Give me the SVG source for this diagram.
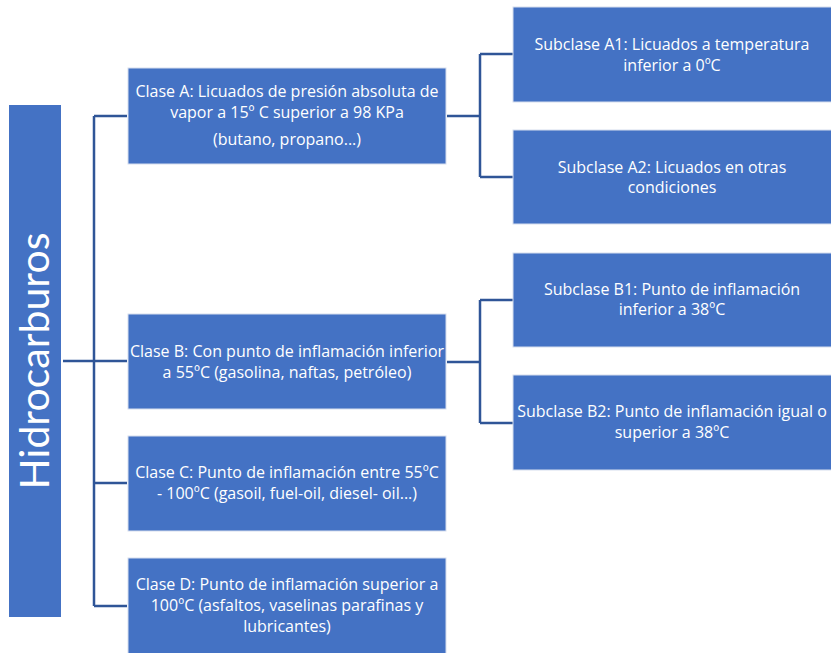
<svg xmlns="http://www.w3.org/2000/svg" width="831" height="653" viewBox="0 0 831 653">
<style>
.box{fill:#4472C4;stroke:#D6DEEE;stroke-width:1}
.t{fill:#FFFFFF;font-family:"Open Sans","Liberation Sans",sans-serif;font-size:16px;text-anchor:middle}
.big{fill:#FFFFFF;font-family:Lato,"Open Sans","Liberation Sans",sans-serif;font-size:41px;text-anchor:middle}
.c{fill:none;stroke:#2F5597;stroke-width:2.5}
</style>
<rect width="831" height="653" fill="#FFFFFF"/>
<g id="connectors">
<path class="c" d="M63,361 H127 M94,116 V606 M94,116 H127 M94,483 H127 M94,606 H127"/>
<path class="c" d="M447,116 H480 M480,54 V177 M480,54 H513 M480,177 H513"/>
<path class="c" d="M447,362 H480 M480,300 V423 M480,300 H513 M480,423 H513"/>
</g>
<g id="root">
<rect class="box" x="9" y="105" width="52" height="512" style="stroke:none"/>
<text class="big" transform="translate(49,361) rotate(-90)">Hidrocarburos</text>
</g>
<g id="claseA">
<rect class="box" x="128" y="68" width="318" height="96"/>
<text class="t" x="287" y="97">Clase A: Licuados de presión absoluta de</text>
<text class="t" x="287" y="118">vapor a 15º C superior a 98 KPa</text>
<text class="t" x="287" y="145">(butano, propano...)</text>
</g>
<g id="claseB">
<rect class="box" x="128" y="314" width="318" height="95"/>
<text class="t" x="287" y="357">Clase B: Con punto de inflamación inferior</text>
<text class="t" x="287" y="378">a 55ºC (gasolina, naftas, petróleo)</text>
</g>
<g id="claseC">
<rect class="box" x="128" y="436" width="318" height="95"/>
<text class="t" x="287" y="478">Clase C: Punto de inflamación entre 55ºC</text>
<text class="t" x="287" y="499">- 100ºC (gasoil, fuel-oil, diesel- oil...)</text>
</g>
<g id="claseD">
<rect class="box" x="128" y="558" width="318" height="100"/>
<text class="t" x="287" y="590">Clase D: Punto de inflamación superior a</text>
<text class="t" x="287" y="611">100ºC (asfaltos, vaselinas parafinas y</text>
<text class="t" x="287" y="632">lubricantes)</text>
</g>
<g id="subA1">
<rect class="box" x="513" y="7" width="322" height="95"/>
<text class="t" x="672" y="50">Subclase A1: Licuados a temperatura</text>
<text class="t" x="672" y="71">inferior a 0ºC</text>
</g>
<g id="subA2">
<rect class="box" x="513" y="130" width="322" height="94"/>
<text class="t" x="672" y="173">Subclase A2: Licuados en otras</text>
<text class="t" x="672" y="193">condiciones</text>
</g>
<g id="subB1">
<rect class="box" x="513" y="253" width="322" height="94"/>
<text class="t" x="672" y="295">Subclase B1: Punto de inflamación</text>
<text class="t" x="672" y="315">inferior a 38ºC</text>
</g>
<g id="subB2">
<rect class="box" x="513" y="375" width="322" height="95"/>
<text class="t" x="672" y="417">Subclase B2: Punto de inflamación igual o</text>
<text class="t" x="672" y="438">superior a 38ºC</text>
</g>
</svg>
